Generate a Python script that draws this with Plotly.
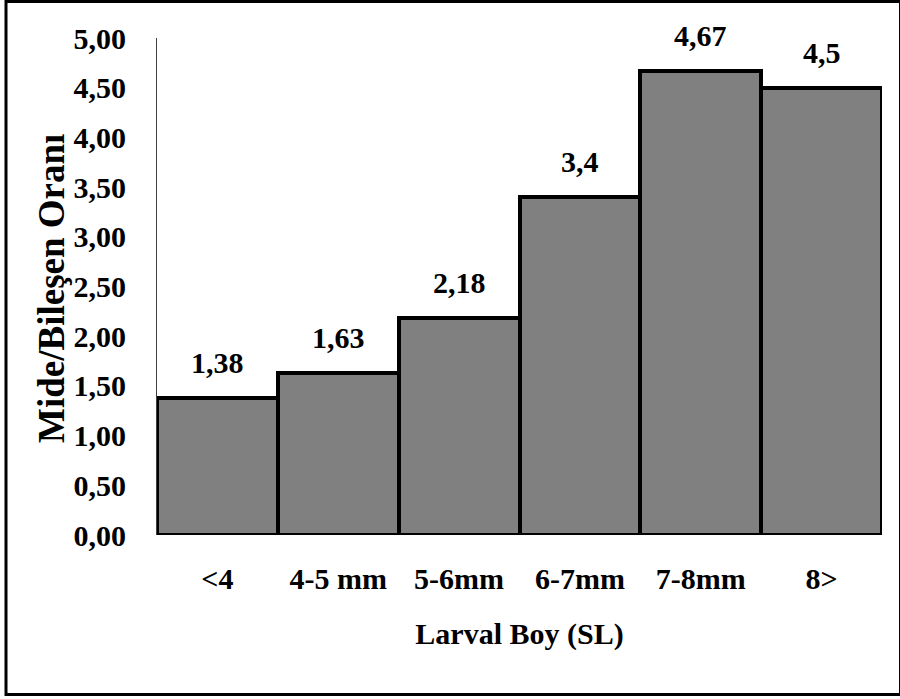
import plotly.graph_objects as go

# Stomach / prey component ratio per larval size class
categories = ["<4", "4-5 mm", "5-6mm", "6-7mm", "7-8mm", "8>"]
ratios = [1.38, 1.63, 2.18, 3.4, 4.67, 4.5]
value_labels = ["1,38", "1,63", "2,18", "3,4", "4,67", "4,5"]
y_ticks = [0.0, 0.5, 1.0, 1.5, 2.0, 2.5, 3.0, 3.5, 4.0, 4.5, 5.0]
y_tick_labels = ["0,00", "0,50", "1,00", "1,50", "2,00", "2,50",
                 "3,00", "3,50", "4,00", "4,50", "5,00"]

FONT = "Liberation Serif"
BOLD = dict(family=FONT, size=30, color="black", weight="bold")
YTITLE = dict(family=FONT, size=37, color="black", weight="bold")

fig = go.Figure()
fig.add_trace(go.Bar(
    x=categories,
    y=ratios,
    marker=dict(color="#808080", line=dict(color="black", width=4)),
    hoverinfo="skip",
))

# value labels above each bar
for cat, val, txt in zip(categories, ratios, value_labels):
    fig.add_annotation(
        x=cat, y=val, text=txt, showarrow=False,
        yanchor="bottom", yshift=17, font=BOLD,
    )

W, H = 900, 699
L, R, T, B = 157, 18, 38, 164
pw, ph = W - L - R, H - T - B

def px_to_paper_x(px):
    return (px - L) / pw

def px_to_paper_y(py):
    return (H - B - py) / ph

# vertical axis title, placed as a rotated annotation
fig.add_annotation(
    xref="paper", yref="paper",
    x=px_to_paper_x(51), y=px_to_paper_y(289),
    text="Mide/Bileşen Oranı", textangle=-90, showarrow=False,
    xanchor="center", yanchor="middle", font=YTITLE,
)

# frame around the whole chart
fig.add_shape(
    type="rect", xref="paper", yref="paper",
    x0=px_to_paper_x(6), x1=px_to_paper_x(900.5),
    y0=px_to_paper_y(694.5), y1=px_to_paper_y(1.5),
    line=dict(color="black", width=3), fillcolor="rgba(0,0,0,0)",
    layer="above",
)

fig.update_layout(
    width=W, height=H,
    margin=dict(l=L, r=R, t=T, b=B),
    paper_bgcolor="white", plot_bgcolor="white",
    bargap=0,
    showlegend=False,
    font=BOLD,
    xaxis=dict(
        showline=False, showgrid=False, ticks="",
        tickfont=BOLD, ticklabelstandoff=23,
        title=dict(text="Larval Boy (SL)", font=BOLD, standoff=28),
    ),
    yaxis=dict(
        range=[0, 5], tickvals=y_ticks, ticktext=y_tick_labels,
        showgrid=False, zeroline=False,
        showline=True, linecolor="#404040", linewidth=1,
        ticks="", tickfont=BOLD, ticklabelstandoff=24,
    ),
)

fig.write_html("out.html")
